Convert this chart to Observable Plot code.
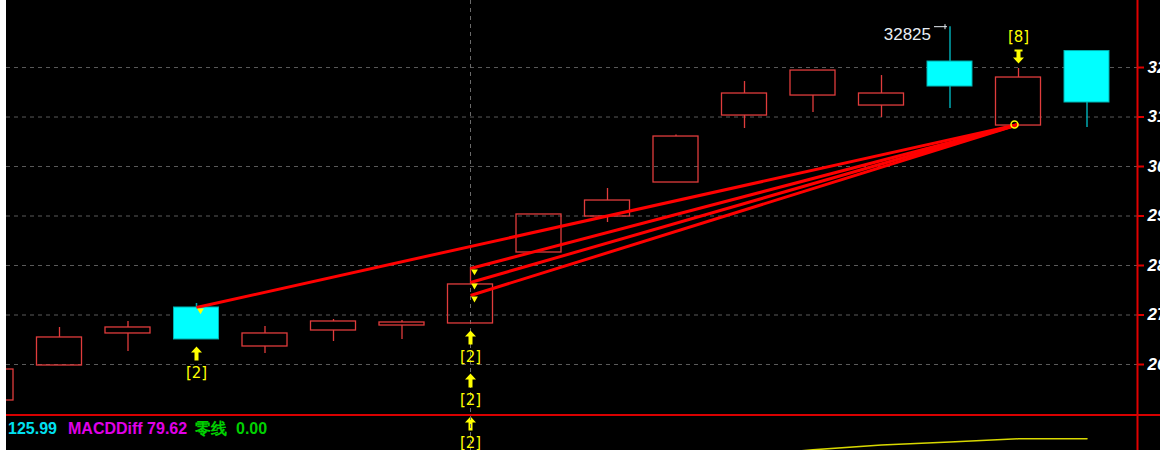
<!DOCTYPE html>
<html><head><meta charset="utf-8">
<script src="https://cdn.jsdelivr.net/npm/d3@7"></script>
<script src="https://cdn.jsdelivr.net/npm/@observablehq/plot@0.6"></script>
<style>
html,body{margin:0;padding:0;background:#fff;}
#wrap{position:relative;margin-left:6px;width:1154px;height:450px;background:#000;overflow:hidden;}
#topPlot,#bottomPlot{position:absolute;left:0;width:1154px;}
#topPlot{top:0;}
#bottomPlot{top:414px;}
#bottomPlot svg{border-top:2px solid #d80000;display:block;}
.lg{position:absolute;top:421px;font:bold 16px "Liberation Sans",Arial,sans-serif;line-height:16px;white-space:nowrap;}
</style></head>
<body>
<div id="wrap">
  <div id="topPlot"></div>
  <div id="bottomPlot"></div>
  <div id="legend"></div>
</div>
<script>
// ---- data ----
const idx   = [1, 2, 3, 4, 5, 6, 7, 8, 9, 10, 11, 12, 13, 14, 15, 16, 17];
const open  = [25273, 25980, 26627, 27152, 26364, 26687, 26788, 26829, 28263, 28990, 29677, 31030, 31434, 31232, 32121, 30828, 32333];
const high  = [25930, 26748, 26869, 27233, 26768, 26909, 26889, 27960, 29031, 29556, 30636, 31717, 31939, 31838, 32825, 31980, 32333];
const low   = [25250, 25980, 26263, 26506, 26223, 26465, 26506, 26829, 28263, 28869, 29677, 30768, 31091, 30990, 31172, 30828, 30788];
const close = [25899, 26546, 26748, 26506, 26627, 26869, 26849, 27617, 29031, 29313, 30606, 31475, 31939, 31475, 31616, 31798, 31293];

const yTicks = [26000, 27000, 28000, 29000, 30000, 31000, 32000];

const linkFromIdx = 16, linkFromPrice = 30850;
const linkToIdx   = [4, 8, 8, 8];
const linkToPrice = [27152, 27940, 27657, 27394];

const upMarkIdx   = [4, 8, 8, 8];
const upMarkLevel = [0, 0, 1, 2];
const upMarkText  = ["[2]", "[2]", "[2]", "[2]"];
const downMarkIdx  = [16];
const downMarkText = ["[8]"];

const highLabelIdx = 15;
const crossIdx = 8;

const lineIdx = [12, 13, 14, 15, 16, 17];
const lineVal = [84.9, 90.7, 95.7, 98.8, 102.0, 102.0];

const legendText  = ["125.99", "MACDDiff 79.62", "零线", "0.00"];
const legendColor = ["#00e0f0", "#e000e8", "#00d000", "#00d000"];

// ---- build ----
const RED = "#e03c3c", CYAN = "#00ffff", TEAL = "#00a8b0", YEL = "#ffff00";
const X0 = 1 + 15.5 / 68.5, X1 = 1 + 1146.5 / 68.5;
const HALF = 0.3285;
const candles = idx.map((i, k) => ({i, o: open[k], h: high[k], l: low[k], c: close[k]}));
const upC = candles.filter(d => d.c >= d.o), downC = candles.filter(d => d.c < d.o);
const links = linkToIdx.map((i, k) => ({i, p: linkToPrice[k]}));
const ups = upMarkIdx.map((i, k) => ({i, y: low[i - 1], lvl: upMarkLevel[k], t: upMarkText[k]}));
const downs = downMarkIdx.map((i, k) => ({i, y: high[i - 1], t: downMarkText[k]}));
const yellow = lineIdx.map((i, k) => ({i, v: lineVal[k]}));

const arrowUp = {draw(c) {
  c.moveTo(0, -7); c.lineTo(5.5, -1); c.lineTo(2, -1); c.lineTo(2, 7);
  c.lineTo(-2, 7); c.lineTo(-2, -1); c.lineTo(-5.5, -1); c.closePath();
}};
const arrowDown = {draw(c) {
  c.moveTo(-4, -7); c.lineTo(4, -7); c.lineTo(4, -5); c.lineTo(2, -5); c.lineTo(2, 1);
  c.lineTo(5.5, 1); c.lineTo(0, 7); c.lineTo(-5.5, 1); c.lineTo(-2, 1); c.lineTo(-2, -5);
  c.lineTo(-4, -5); c.closePath();
}};
const pointer = {draw(c) {
  c.moveTo(-16, 0); c.lineTo(-3, 0); c.moveTo(-5, -2.5); c.lineTo(-5, 2.5);
}};

const upMarks = [];
for (let lvl = 0; lvl < 3; lvl++) {
  const dd = ups.filter(d => d.lvl === lvl);
  upMarks.push(Plot.dot(dd, {x: "i", y: "y", symbol: arrowUp, r: 5, fill: YEL, stroke: "none", dy: 14 + lvl * 43}));
  upMarks.push(Plot.text(dd, {x: "i", y: "y", text: "t", fill: YEL, fontSize: 15, fontFamily: "DejaVu Sans", dy: 33.5 + lvl * 43}));
}

const topChart = Plot.plot({
  width: 1154, height: 450,
  marginLeft: 0, marginRight: 23, marginTop: 0, marginBottom: 36,
  x: {type: "linear", domain: [X0, X1], axis: null},
  y: {domain: [24990, 33354], axis: null},
  style: {background: "#000", color: "#fff", fontFamily: "Liberation Sans"},
  marks: [
    Plot.ruleY(yTicks, {stroke: "#5a5a5a", strokeDasharray: "4,4"}),
    Plot.ruleX([crossIdx], {stroke: "#6a6a6a", strokeDasharray: "4,4"}),
    Plot.ruleX(upC, {x: "i", y1: d => Math.max(d.o, d.c), y2: "h", stroke: RED, strokeWidth: 1.3}),
    Plot.ruleX(upC, {x: "i", y1: "l", y2: d => Math.min(d.o, d.c), stroke: RED, strokeWidth: 1.3}),
    Plot.ruleX(downC, {x: "i", y1: d => Math.max(d.o, d.c), y2: "h", stroke: TEAL, strokeWidth: 1.5}),
    Plot.ruleX(downC, {x: "i", y1: "l", y2: d => Math.min(d.o, d.c), stroke: TEAL, strokeWidth: 1.5}),
    Plot.rect(upC, {x1: d => d.i - HALF, x2: d => d.i + HALF, y1: "o", y2: "c", fill: "none", stroke: RED, strokeWidth: 1.3}),
    Plot.rect(downC, {x1: d => d.i - HALF, x2: d => d.i + HALF, y1: "o", y2: "c", fill: CYAN, stroke: "#00b0b0", strokeWidth: 1}),
    Plot.link(links, {x1: linkFromIdx, y1: linkFromPrice, x2: "i", y2: "p", stroke: "#ff0000", strokeWidth: 3}),
    Plot.dot(links, {x: "i", y: "p", symbol: "triangle", r: 2.5, rotate: 180, fill: YEL, stroke: "none", dx: 4, dy: 3}),
    Plot.dot([{i: linkFromIdx, p: linkFromPrice}], {x: "i", y: "p", r: 3.5, fill: "none", stroke: YEL, strokeWidth: 1.5, dx: -4}),
    ...upMarks,
    Plot.dot(downs, {x: "i", y: "y", symbol: arrowDown, r: 5, fill: YEL, stroke: "none", dy: -12}),
    Plot.text(downs, {x: "i", y: "y", text: "t", fill: YEL, fontSize: 15, fontFamily: "DejaVu Sans", dy: -31}),
    Plot.text([candles[highLabelIdx - 1]], {x: "i", y: "h", text: d => String(d.h), fill: "#e8eef4", fontSize: 17, fontFamily: "Liberation Sans", textAnchor: "end", dx: -19, dy: 8}),
    Plot.dot([candles[highLabelIdx - 1]], {x: "i", y: "h", symbol: pointer, r: 5, fill: "none", stroke: "#e8eef4", strokeWidth: 1}),
    Plot.ruleX([X1], {stroke: "#e00000", strokeWidth: 2}),
    Plot.axisY(yTicks, {anchor: "right", tickSize: 6, tickPadding: 4, stroke: "#e00000", strokeWidth: 2, fill: "#ffffff",
      fontSize: 17, fontWeight: "bold", fontStyle: "italic", fontFamily: "Liberation Sans", tickFormat: d => String(d)})
  ]
});
document.getElementById("topPlot").appendChild(topChart);

const bottomChart = Plot.plot({
  width: 1154, height: 34,
  marginLeft: 0, marginRight: 23, marginTop: 0, marginBottom: 0,
  x: {type: "linear", domain: [X0, X1], axis: null},
  y: {domain: [90, 125], axis: null},
  style: {background: "transparent", color: "#fff"},
  marks: [
    Plot.ruleX([crossIdx], {stroke: "#6a6a6a", strokeDasharray: "4,4"}),
    Plot.ruleX([X1], {stroke: "#e00000", strokeWidth: 2}),
    Plot.line(yellow, {x: "i", y: "v", stroke: "#d8d800", strokeWidth: 1.5, clip: true})
  ]
});
document.getElementById("bottomPlot").appendChild(bottomChart);

const lgLeft = [2, 62, 189, 230];
const lg = document.getElementById("legend");
legendText.forEach((t, k) => {
  const s = document.createElement("div");
  s.className = "lg";
  s.style.left = lgLeft[k] + "px";
  s.style.color = legendColor[k];
  s.textContent = t;
  lg.appendChild(s);
});
</script>
</body></html>
